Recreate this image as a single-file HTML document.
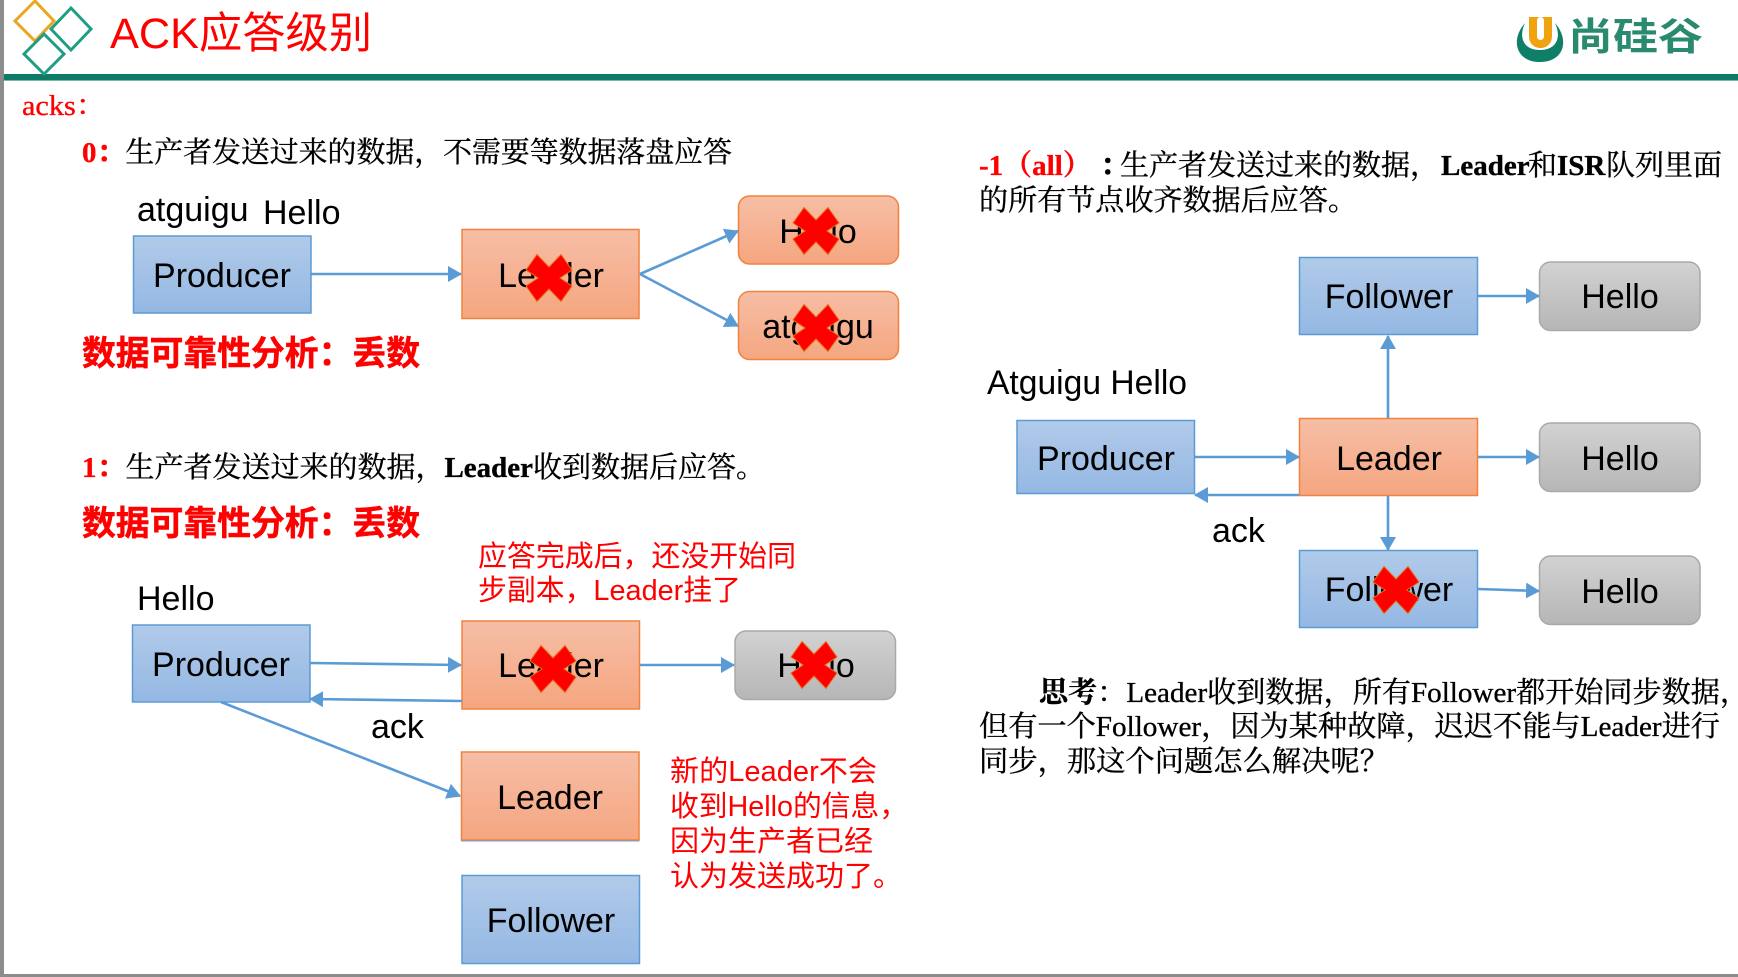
<!DOCTYPE html>
<html><head><meta charset="utf-8"><style>
html,body{margin:0;padding:0;background:#fff}
svg{display:block}
.s{font-family:"Liberation Sans","Noto Sans CJK SC",sans-serif;font-size:34px;fill:#000}
.m{text-anchor:middle}
.t{font-family:"Liberation Serif","Noto Serif CJK SC",serif;font-size:29px;fill:#000;stroke:#000;stroke-width:.35px}
.b{font-weight:bold}
.r{fill:#f00;stroke:#f00}
.h{font-family:"Liberation Sans","Noto Sans CJK SC",sans-serif;font-size:34px;font-weight:bold;fill:#f00;stroke:#f00;stroke-width:.5px}
.n{font-family:"Liberation Sans","Noto Sans CJK SC",sans-serif;font-size:29px;fill:#f00}
.a{stroke:#5b9bd5;stroke-width:2.6;fill:none;marker-end:url(#ah)}
.bl{fill:url(#gb);stroke:#5b9bd5;stroke-width:1.5}
.or{fill:url(#go);stroke:#f0823f;stroke-width:1.5}
.gr{fill:url(#gg);stroke:#a9a9a9;stroke-width:1.5}
.x{fill:#f00;stroke:#e8701a;stroke-width:1}
</style></head><body>
<svg width="1738" height="977" viewBox="0 0 1738 977" xmlns="http://www.w3.org/2000/svg">
<defs>
<linearGradient id="gb" x1="0" y1="0" x2="0" y2="1"><stop offset="0" stop-color="#b1cae9"/><stop offset="1" stop-color="#94b8e3"/></linearGradient>
<linearGradient id="go" x1="0" y1="0" x2="0" y2="1"><stop offset="0" stop-color="#f6bea6"/><stop offset="1" stop-color="#f5a680"/></linearGradient>
<linearGradient id="gg" x1="0" y1="0" x2="0" y2="1"><stop offset="0" stop-color="#d2d2d2"/><stop offset="1" stop-color="#b6b6b6"/></linearGradient>
<marker id="ah" markerUnits="userSpaceOnUse" markerWidth="14" markerHeight="16" refX="13" refY="8" orient="auto"><path d="M0,0L14,8L0,16Z" fill="#5b9bd5"/></marker>
<polygon id="xx" points="-12,-23.5 0,-11 12,-23.5 23,-8 11,0 23,8 12,23.5 0,11 -12,23.5 -23,8 -11,0 -23,-8"/>
</defs>
<rect x="0" y="0" width="1738" height="977" fill="#fff"/>
<rect x="0" y="0" width="4" height="977" fill="#8c8c8c"/>
<rect x="0" y="974" width="1738" height="3" fill="#8c8c8c"/>
<rect x="4" y="74" width="1734" height="7" fill="#0d7b65"/>
<rect x="4" y="80" width="1734" height="1" fill="#7fb5a8"/>

<!-- header -->
<polygon points="35,1 54,21 35,41 15,21" fill="none" stroke="#eaa61f" stroke-width="3"/>
<polygon points="71,8 91,29 71,50 51,29" fill="none" stroke="#1f9e85" stroke-width="3"/>
<polygon points="44,34 64,54 44,74 24,54" fill="none" stroke="#1f9e85" stroke-width="3"/>
<text x="110" y="48" font-family="Liberation Sans,Noto Sans CJK SC,sans-serif" font-size="43" fill="#f00" textLength="262" lengthAdjust="spacingAndGlyphs">ACK应答级别</text>
<path d="M1525,23 C1510,40 1516,62 1540,62 C1564,62 1570,40 1555,23 C1562,38 1556,50 1540,50 C1524,50 1518,38 1525,23Z" fill="#0f7f68"/>
<path d="M1529,17 H1552 V36 C1552,52 1529,52 1529,36Z" fill="#f0a30f"/>
<rect x="1537" y="17" width="7" height="23" rx="3.500" fill="#fff"/>
<text x="1568" y="50" font-family="Noto Sans CJK SC,sans-serif" font-size="38" font-weight="bold" fill="#2a8a6f" textLength="135" lengthAdjust="spacingAndGlyphs">尚硅谷</text>

<!-- left top text -->
<text class="t r" x="22" y="115" textLength="84" lengthAdjust="spacingAndGlyphs">acks：</text>
<text class="t" x="82" y="162" textLength="650" lengthAdjust="spacingAndGlyphs"><tspan class="r b">0：</tspan>生产者发送过来的数据，不需要等数据落盘应答</text>
<text class="s" x="137" y="221">atguigu</text>
<text class="s" x="263" y="224">Hello</text>
<text class="h" x="82" y="365" textLength="338" lengthAdjust="spacingAndGlyphs">数据可靠性分析：丢数</text>

<!-- diagram 0 -->
<rect class="bl" x="133.500" y="236" width="177.500" height="77"/>
<rect class="or" x="462" y="229.500" width="177" height="89"/>
<rect class="or" x="738.500" y="196" width="160" height="68" rx="11"/>
<rect class="or" x="738.500" y="291.500" width="160" height="68" rx="11"/>
<line class="a" x1="311" y1="274" x2="461" y2="274"/>
<line class="a" x1="640" y1="274" x2="738" y2="231"/>
<line class="a" x1="640" y1="274" x2="738" y2="326"/>
<text class="s m" x="222" y="287">Producer</text>
<text class="s m" x="551" y="287">Leader</text>
<text class="s m" x="818" y="243">Hello</text>
<text class="s m" x="818" y="338">atguigu</text>
<use href="#xx" class="x" x="549" y="278"/>
<use href="#xx" class="x" x="816" y="231"/>
<use href="#xx" class="x" x="816" y="328"/>

<!-- section 1 -->
<text class="t" x="82" y="477" textLength="683" lengthAdjust="spacingAndGlyphs"><tspan class="r b">1：</tspan>生产者发送过来的数据，<tspan class="b">Leader</tspan>收到数据后应答。</text>
<text class="h" x="82" y="535" textLength="338" lengthAdjust="spacingAndGlyphs">数据可靠性分析：丢数</text>
<text class="n" x="478" y="566" textLength="318" lengthAdjust="spacingAndGlyphs">应答完成后，还没开始同</text>
<text class="n" x="478" y="600" textLength="263" lengthAdjust="spacingAndGlyphs">步副本，Leader挂了</text>
<text class="s" x="137" y="610">Hello</text>
<rect class="bl" x="132.500" y="625" width="177.500" height="77"/>
<rect class="or" x="462" y="621" width="177.500" height="88"/>
<rect class="gr" x="735" y="631" width="160.500" height="68.500" rx="11"/>
<rect class="or" x="461.500" y="752" width="177.500" height="88"/>
<rect fill="#999" x="461" y="840" width="178.500" height="1.500"/>
<rect class="bl" x="462" y="875.500" width="177.500" height="88"/>
<line class="a" x1="310" y1="663" x2="461" y2="665"/>
<line class="a" x1="462" y1="701" x2="310" y2="699"/>
<line class="a" x1="221" y1="702" x2="460" y2="796"/>
<line class="a" x1="640" y1="665" x2="734" y2="665"/>
<text class="s" x="371" y="738">ack</text>
<text class="s m" x="221" y="676">Producer</text>
<text class="s m" x="551" y="677">Leader</text>
<text class="s m" x="816" y="677">Hello</text>
<text class="s m" x="550" y="809">Leader</text>
<text class="s m" x="551" y="932">Follower</text>
<use href="#xx" class="x" x="553" y="669"/>
<use href="#xx" class="x" x="814" y="665"/>
<text class="n" x="670" y="781" textLength="207" lengthAdjust="spacingAndGlyphs">新的Leader不会</text>
<text class="n" x="670" y="816" textLength="238" lengthAdjust="spacingAndGlyphs">收到Hello的信息，</text>
<text class="n" x="670" y="851" textLength="203" lengthAdjust="spacingAndGlyphs">因为生产者已经</text>
<text class="n" x="670" y="886" textLength="232" lengthAdjust="spacingAndGlyphs">认为发送成功了。</text>

<!-- right -->
<text class="t" x="979" y="175"><tspan class="r b">-1（all）</tspan><tspan class="b" x="1100">：</tspan><tspan x="1120">生产者发送过来的数据，</tspan><tspan class="b" x="1441">Leader</tspan><tspan x="1528">和</tspan><tspan class="b" x="1557">ISR</tspan><tspan x="1606">队列里面</tspan></text>
<text class="t" x="979" y="210" textLength="378" lengthAdjust="spacingAndGlyphs">的所有节点收齐数据后应答。</text>
<text class="s" x="987" y="394" textLength="200" lengthAdjust="spacingAndGlyphs">Atguigu Hello</text>
<rect class="bl" x="1299.500" y="257.500" width="178" height="77"/>
<rect class="gr" x="1539.500" y="262" width="160.500" height="68.500" rx="11"/>
<rect class="bl" x="1017" y="420.500" width="177.500" height="73"/>
<rect class="or" x="1299.500" y="418.500" width="178" height="77"/>
<rect class="gr" x="1539.500" y="423" width="160.500" height="68.500" rx="11"/>
<rect class="bl" x="1299.500" y="550.500" width="178" height="77"/>
<rect class="gr" x="1539.500" y="556" width="160.500" height="68.500" rx="11"/>
<line class="a" x1="1478" y1="296" x2="1539" y2="296"/>
<line class="a" x1="1388" y1="418" x2="1388" y2="336"/>
<line class="a" x1="1195" y1="457" x2="1299" y2="457"/>
<line class="a" x1="1299" y1="495" x2="1195" y2="495"/>
<line class="a" x1="1478" y1="457" x2="1539" y2="457"/>
<line class="a" x1="1388" y1="496" x2="1388" y2="550"/>
<line class="a" x1="1478" y1="589" x2="1539" y2="591"/>
<text class="s m" x="1389" y="308">Follower</text>
<text class="s m" x="1620" y="308">Hello</text>
<text class="s m" x="1106" y="470">Producer</text>
<text class="s m" x="1389" y="470">Leader</text>
<text class="s m" x="1620" y="470">Hello</text>
<text class="s" x="1212" y="542">ack</text>
<text class="s m" x="1389" y="601">Follower</text>
<text class="s m" x="1620" y="603">Hello</text>
<use href="#xx" class="x" x="1396" y="590"/>
<text class="t" x="1039" y="702" textLength="710" lengthAdjust="spacingAndGlyphs"><tspan class="b">思考</tspan>：Leader收到数据，所有Follower都开始同步数据，</text>
<text class="t" x="979" y="736" textLength="741" lengthAdjust="spacingAndGlyphs">但有一个Follower，因为某种故障，迟迟不能与Leader进行</text>
<text class="t" x="979" y="771" textLength="410" lengthAdjust="spacingAndGlyphs">同步，那这个问题怎么解决呢？</text>
</svg>
</body></html>
